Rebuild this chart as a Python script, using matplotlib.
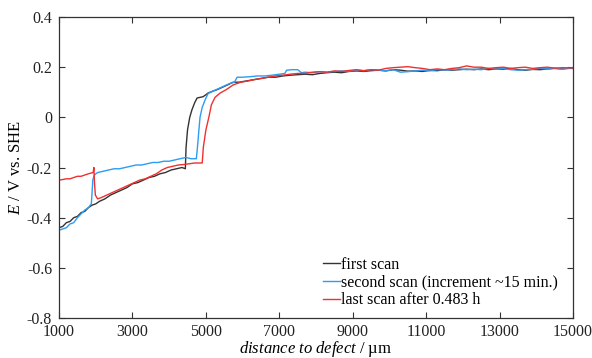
import matplotlib
matplotlib.use("Agg")
import matplotlib.pyplot as plt

plt.rcParams['font.family'] = ['Liberation Serif', 'DejaVu Serif']
plt.rcParams['mathtext.fontset'] = 'custom'
plt.rcParams['mathtext.rm'] = 'Liberation Serif'
plt.rcParams['mathtext.it'] = 'Liberation Serif:italic'

# --- data ---
x_first = [1000, 1100, 1200, 1300, 1400, 1500, 1600, 1700, 1800, 1900, 2000, 2100, 2250, 2400,
           2550, 2700, 2850, 3000, 3150, 3300, 3450, 3600, 3750, 3900, 4050, 4200, 4350, 4440,
           4460, 4500, 4560, 4620, 4700, 4760, 4850, 4920, 5000, 5060, 5200, 5300, 5450, 5600,
           5740, 5900, 6100, 6300, 6500, 6700, 6900, 7100, 7300, 7500, 7700, 7900, 8100, 8300,
           8500, 8700, 8900, 9100, 9300, 9500, 9700, 9900, 10100, 10300, 10500, 10700, 10900,
           11100, 11300, 11500, 11700, 11900, 12100, 12300, 12500, 12700, 12900, 13100, 13300,
           13500, 13700, 13900, 14100, 14300, 14500, 14700, 14900, 15000]
y_first = [-0.44, -0.435, -0.42, -0.415, -0.40, -0.395, -0.38, -0.375, -0.36, -0.35, -0.345,
           -0.335, -0.325, -0.31, -0.30, -0.29, -0.28, -0.265, -0.26, -0.25, -0.24, -0.235,
           -0.225, -0.22, -0.21, -0.205, -0.20, -0.205, -0.12, -0.05, 0.0, 0.03, 0.06, 0.077,
           0.08, 0.082, 0.09, 0.097, 0.105, 0.11, 0.12, 0.13, 0.14, 0.14, 0.145, 0.15, 0.155,
           0.16, 0.16, 0.165, 0.168, 0.17, 0.172, 0.17, 0.175, 0.178, 0.18, 0.178, 0.183, 0.185,
           0.183, 0.186, 0.188, 0.185, 0.19, 0.188, 0.184, 0.185, 0.183, 0.187, 0.186, 0.19,
           0.188, 0.19, 0.192, 0.19, 0.193, 0.19, 0.193, 0.192, 0.195, 0.19, 0.188, 0.191, 0.19,
           0.193, 0.195, 0.193, 0.196, 0.195]

x_second = [1000, 1100, 1200, 1300, 1400, 1500, 1600, 1700, 1800, 1880, 1900, 1920, 1960, 2050,
            2200, 2350, 2500, 2650, 2800, 2950, 3100, 3250, 3400, 3550, 3700, 3850, 4000, 4150,
            4300, 4450, 4600, 4740, 4770, 4810, 4840, 4900, 4980, 5060, 5200, 5350, 5500, 5650,
            5780, 5850, 6000, 6200, 6400, 6600, 6800, 7000, 7150, 7200, 7350, 7500, 7600, 7700,
            7900, 8100, 8300, 8500, 8700, 8900, 9100, 9300, 9500, 9700, 9900, 10100, 10300,
            10500, 10700, 10900, 11100, 11300, 11500, 11700, 11900, 12100, 12300, 12500, 12700,
            12900, 13100, 13300, 13500, 13700, 13900, 14100, 14300, 14500, 14700, 14900, 15000]
y_second = [-0.45, -0.445, -0.44, -0.425, -0.42, -0.40, -0.385, -0.37, -0.36, -0.345, -0.30,
            -0.25, -0.23, -0.22, -0.215, -0.21, -0.205, -0.205, -0.20, -0.195, -0.19, -0.19,
            -0.185, -0.18, -0.18, -0.175, -0.175, -0.17, -0.165, -0.16, -0.165, -0.165, -0.12,
            -0.05, 0.0, 0.04, 0.07, 0.095, 0.105, 0.115, 0.125, 0.135, 0.14, 0.16, 0.16, 0.162,
            0.165, 0.165, 0.168, 0.172, 0.175, 0.188, 0.19, 0.19, 0.178, 0.18, 0.178, 0.182,
            0.18, 0.183, 0.185, 0.184, 0.188, 0.186, 0.19, 0.188, 0.186, 0.19, 0.18, 0.182,
            0.185, 0.188, 0.186, 0.19, 0.188, 0.19, 0.193, 0.19, 0.192, 0.19, 0.195, 0.192,
            0.195, 0.19, 0.188, 0.19, 0.192, 0.195, 0.193, 0.196, 0.193, 0.195, 0.195]

x_last = [1000, 1100, 1200, 1300, 1400, 1500, 1600, 1700, 1800, 1930, 1950, 1965, 1990, 2050,
          2150, 2300, 2450, 2600, 2750, 2900, 3050, 3200, 3350, 3500, 3650, 3800, 3950, 4100,
          4250, 4400, 4550, 4700, 4900, 4930, 5000, 5080, 5150, 5250, 5390, 5550, 5740, 5950,
          6150, 6300, 6500, 6700, 6900, 7100, 7300, 7500, 7700, 7900, 8100, 8300, 8500, 8700,
          8900, 9100, 9300, 9500, 9700, 9900, 10100, 10300, 10500, 10700, 10900, 11100, 11300,
          11500, 11700, 11900, 12100, 12300, 12500, 12700, 12900, 13100, 13300, 13500, 13700,
          13900, 14100, 14300, 14500, 14700, 14900, 15000]
y_last = [-0.25, -0.248, -0.245, -0.245, -0.24, -0.235, -0.235, -0.23, -0.225, -0.22, -0.20,
          -0.26, -0.31, -0.325, -0.32, -0.31, -0.30, -0.29, -0.28, -0.27, -0.26, -0.25, -0.245,
          -0.235, -0.225, -0.21, -0.2, -0.195, -0.19, -0.188, -0.185, -0.182, -0.182, -0.12,
          -0.05, 0.0, 0.05, 0.08, 0.097, 0.11, 0.129, 0.14, 0.145, 0.15, 0.155, 0.16, 0.165,
          0.168, 0.172, 0.175, 0.175, 0.18, 0.182, 0.18, 0.185, 0.183, 0.187, 0.19, 0.186,
          0.19, 0.188, 0.195, 0.198, 0.2, 0.202, 0.198, 0.195, 0.19, 0.193, 0.19, 0.195, 0.198,
          0.205, 0.2, 0.2, 0.195, 0.198, 0.2, 0.195, 0.198, 0.2, 0.195, 0.198, 0.2, 0.196,
          0.198, 0.197, 0.197]

labels = ["first scan", "second scan (increment ~15 min.)", "last scan after 0.483 h"]
colors = ["#333333", "#2a9df4", "#f03030"]

fig = plt.figure(figsize=(5.92, 3.58), dpi=100)
ax = fig.add_axes([0.0997, 0.1117, 0.8683, 0.8408])

ax.plot(x_first, y_first, color=colors[0], lw=1.0, label=labels[0])
ax.plot(x_second, y_second, color=colors[1], lw=1.0, label=labels[1])
ax.plot(x_last, y_last, color=colors[2], lw=1.0, label=labels[2])

ax.set_xlim(1000, 15000)
ax.set_ylim(-0.8, 0.4)
ax.set_xticks(range(1000, 15001, 2000))
ax.set_yticks([-0.8, -0.6, -0.4, -0.2, 0, 0.2, 0.4])
ax.set_yticklabels(["-0.8", "-0.6", "-0.4", "-0.2", "0", "0.2", "0.4"])
ax.tick_params(direction='in', top=True, right=True, length=4, width=0.8,
               labelsize=11.5, colors='#333333', labelcolor='#222222')
ax.tick_params(axis='x', pad=4.5)
ax.tick_params(axis='y', pad=5)
for s in ax.spines.values():
    s.set_color('#333333')
    s.set_linewidth(0.9)

ax.set_xlabel(r"$\mathit{distance\ to\ defect}$ / µm", fontsize=12, labelpad=-1)
ax.set_ylabel(r"$E$ / V vs. SHE", fontsize=12, labelpad=2)

ax.legend(loc='lower right', bbox_to_anchor=(0.99, 0.0), frameon=False, fontsize=11.5,
          handlelength=1.05, handletextpad=0.08, labelspacing=0.12, borderaxespad=0.2)

fig.savefig("out.png", dpi=100)
